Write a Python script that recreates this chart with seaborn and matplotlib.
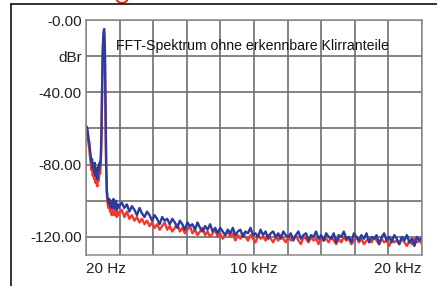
import pandas as pd
import seaborn as sns
import matplotlib.pyplot as plt
from matplotlib.lines import Line2D
from matplotlib.patches import Ellipse

# FFT spectrum (Hz / dBr)
freq_low = [20, 60, 100, 140, 180, 220, 260, 300, 340, 380, 420, 460, 500, 540, 580,
            620, 660, 700, 740, 780, 820, 860, 900, 940, 980, 1020, 1060, 1100, 1140, 1180,
            1220, 1260, 1300, 1350, 1400, 1450, 1500, 1550, 1600, 1650, 1700, 1750, 1800,
            1850, 1900, 1950]
blue_low = [-61, -59, -60, -63, -66, -68, -72, -75, -79, -77, -82, -80, -84, -79, -86,
            -82, -85, -88, -81, -84, -79, -80, -76, -62, -35, -15, -7, -5, -14, -45,
            -80, -94, -98, -101, -99, -103, -100, -104, -101, -99, -104, -102, -100,
            -105, -102, -104]
red_low = [-62, -61, -63, -66, -69, -72, -76, -79, -83, -81, -86, -84, -88, -85, -90,
           -87, -91, -92, -86, -89, -84, -85, -80, -65, -38, -18, -9, -7, -17, -48,
           -83, -97, -101, -104, -102, -106, -104, -108, -105, -103, -108, -106, -104,
           -109, -106, -108]

# FFT bins from 2 kHz to 20 kHz, 150 Hz apart
freq_high = list(range(2000, 20001, 150))
blue_high = [-103, -101, -104, -102, -106, -103, -105, -108, -104, -107,
             -109, -106, -108, -111, -108, -110, -113, -109, -111, -110,
             -113, -110, -112, -115, -111, -113, -116, -112, -114, -113,
             -116, -112, -115, -117, -114, -116, -113, -117, -115, -118,
             -115, -117, -119, -116, -118, -115, -119, -117, -116, -120,
             -117, -118, -115, -119, -118, -120, -116, -119, -117, -121,
             -118, -117, -120, -118, -121, -117, -119, -120, -118, -122,
             -119, -117, -121, -119, -118, -122, -119, -120, -117, -121,
             -119, -122, -118, -120, -121, -118, -123, -119, -120, -117,
             -121, -120, -123, -118, -120, -122, -119, -121, -118, -123,
             -120, -121, -119, -124, -120, -118, -122, -120, -123, -119,
             -121, -124, -120, -122, -119, -123, -121, -125, -120, -122,
             -120]
red_high = [-107, -105, -109, -106, -110, -108, -111, -109, -112, -110,
            -113, -111, -114, -112, -115, -113, -116, -114, -112, -116,
            -114, -117, -115, -113, -117, -115, -118, -116, -114, -118,
            -116, -119, -117, -115, -119, -117, -120, -118, -116, -120,
            -118, -121, -119, -117, -120, -118, -122, -119, -121, -118,
            -120, -122, -119, -121, -123, -119, -121, -120, -122, -119,
            -121, -123, -120, -122, -119, -121, -123, -120, -122, -121,
            -119, -122, -124, -120, -121, -123, -120, -122, -121, -124,
            -120, -122, -121, -123, -120, -122, -124, -121, -123, -120,
            -122, -121, -124, -122, -120, -123, -121, -124, -122, -121,
            -123, -120, -122, -124, -121, -123, -122, -125, -121, -123,
            -122, -124, -121, -123, -125, -122, -124, -121, -123, -122,
            -124]

ytick_vals = [0, -20, -40, -60, -80, -100, -120]
ytick_labels = ['-0.00', 'dBr', '-40.00', '', '-80.00', '', '-120.00']
xtick_vals = [20 + 1998 * i for i in range(11)]
xtick_labels = ['20 Hz', '', '', '', '', '10 kHz', '', '', '', '', '20 kHz']

df = pd.DataFrame({
    'freq': freq_low + freq_high,
    'blue': blue_low + blue_high,
    'red': red_low + red_high,
})

sns.set_theme(style='white')
plt.rcParams['font.family'] = ['Liberation Sans', 'DejaVu Sans']

fig = plt.figure(figsize=(4.37, 2.86), dpi=100)
ax = fig.add_axes([86 / 437, 31 / 286, 336 / 437, 235 / 286])

sns.lineplot(data=df, x='freq', y='red', color='#f2382c', lw=1.7, ax=ax)
sns.lineplot(data=df, x='freq', y='blue', color='#2a3c9e', lw=1.7, ax=ax)

ax.set_xlim(20, 20000)
ax.set_ylim(-130, 0)
ax.set_yticks(ytick_vals)
ax.set_yticklabels(ytick_labels)
ax.set_xticks(xtick_vals)
ax.set_xticklabels(xtick_labels)
xl = ax.get_xticklabels()
xl[0].set_ha('left')
xl[-1].set_ha('right')
ax.tick_params(axis='both', length=0, labelsize=11, colors='#222222')
ax.tick_params(axis='y', pad=3)
ax.tick_params(axis='x', pad=5)
ax.grid(True, color='#6e6e6e', lw=1.2)
for s in ax.spines.values():
    s.set_color('#8a8a8a')
    s.set_linewidth(1.1)
ax.set_xlabel('')
ax.set_ylabel('')

ax.text(1800, -14.4, 'FFT-Spektrum ohne erkennbare Klirranteile',
        fontsize=10.2, va='center', ha='left', color='#111111')

# outer magazine frame
fig.add_artist(Line2D([11 / 437, 1], [1 - 4 / 286, 1 - 4 / 286],
                      transform=fig.transFigure, color='#111111', lw=1.2))
fig.add_artist(Line2D([11 / 437, 11 / 437], [0, 1 - 4 / 286],
                      transform=fig.transFigure, color='#111111', lw=1.2))
fig.add_artist(Ellipse((122 / 437, 1 + 3 / 286), 12 / 437, 12 / 286,
                       transform=fig.transFigure, fc='none', ec='#e0301f', lw=1.5))

plt.savefig('out.png', dpi=100)
